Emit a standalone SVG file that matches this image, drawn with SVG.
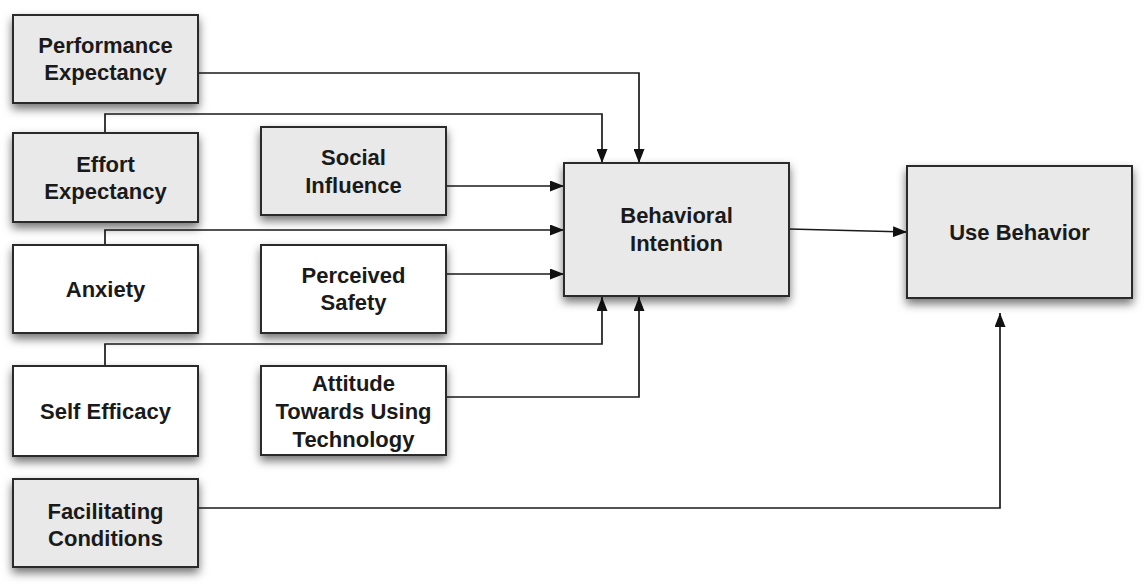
<svg xmlns="http://www.w3.org/2000/svg" width="1148" height="588" viewBox="0 0 1148 588">
<defs>
<filter id="sh" x="-20%" y="-20%" width="140%" height="160%">
<feDropShadow dx="0" dy="5" stdDeviation="5" flood-color="#000" flood-opacity="0.55"/>
</filter>
<marker id="ah" viewBox="0 0 14 11" refX="14" refY="5.5" markerWidth="14" markerHeight="11" markerUnits="userSpaceOnUse" orient="auto">
<path d="M0,0 L14,5.5 L0,11 Z" fill="#111"/>
</marker>
<style>
.box{stroke:#2a2a2a;stroke-width:2;filter:url(#sh)}
.g{fill:#e9e9e9}
.w{fill:#ffffff}
.t{font-family:"Liberation Sans",Arial,Helvetica,sans-serif;font-weight:bold;font-size:22px;fill:#1a1a1a;text-anchor:middle}
.c{fill:none;stroke:#1a1a1a;stroke-width:1.7}
.a{marker-end:url(#ah)}
</style>
</defs>
<rect width="1148" height="588" fill="#fff"/>

<g id="connectors">
<polyline class="c a" points="198,73 639,73 639,163"/>
<polyline class="c a" points="105,133 105,114 602,114 602,163"/>
<polyline class="c a" points="446,186 564,186"/>
<polyline class="c a" points="105,245 105,230 564,230"/>
<polyline class="c a" points="446,274 564,274"/>
<polyline class="c a" points="105,366 105,344 602,344 602,297"/>
<polyline class="c a" points="446,397 639,397 639,297"/>
<polyline class="c a" points="789,229 907,232"/>
<polyline class="c a" points="198,508 1000,508 1000,313"/>
</g>

<g id="performance-expectancy">
<rect class="box g" x="13" y="15" width="185" height="88"/>
<text class="t" x="105.5" y="53">Performance</text>
<text class="t" x="105.5" y="80">Expectancy</text>
</g>
<g id="effort-expectancy">
<rect class="box g" x="13" y="133" width="185" height="89"/>
<text class="t" x="105.5" y="172">Effort</text>
<text class="t" x="105.5" y="199">Expectancy</text>
</g>
<g id="anxiety">
<rect class="box w" x="13" y="245" width="185" height="88"/>
<text class="t" x="105.5" y="297">Anxiety</text>
</g>
<g id="self-efficacy">
<rect class="box w" x="13" y="366" width="185" height="90"/>
<text class="t" x="105.5" y="419">Self Efficacy</text>
</g>
<g id="facilitating-conditions">
<rect class="box g" x="13" y="479" width="185" height="88"/>
<text class="t" x="105.5" y="519">Facilitating</text>
<text class="t" x="105.5" y="546">Conditions</text>
</g>
<g id="social-influence">
<rect class="box g" x="261" y="127" width="185" height="88"/>
<text class="t" x="353.5" y="165">Social</text>
<text class="t" x="353.5" y="193">Influence</text>
</g>
<g id="perceived-safety">
<rect class="box w" x="261" y="245" width="185" height="88"/>
<text class="t" x="353.5" y="283">Perceived</text>
<text class="t" x="353.5" y="310">Safety</text>
</g>
<g id="attitude">
<rect class="box w" x="261" y="366" width="185" height="89"/>
<text class="t" x="353.5" y="391">Attitude</text>
<text class="t" x="353.5" y="419">Towards Using</text>
<text class="t" x="353.5" y="447">Technology</text>
</g>
<g id="behavioral-intention">
<rect class="box g" x="564" y="163" width="225" height="133"/>
<text class="t" x="676.5" y="223">Behavioral</text>
<text class="t" x="676.5" y="251">Intention</text>
</g>
<g id="use-behavior">
<rect class="box g" x="907" y="166" width="225" height="132"/>
<text class="t" x="1019.5" y="240">Use Behavior</text>
</g>
</svg>
